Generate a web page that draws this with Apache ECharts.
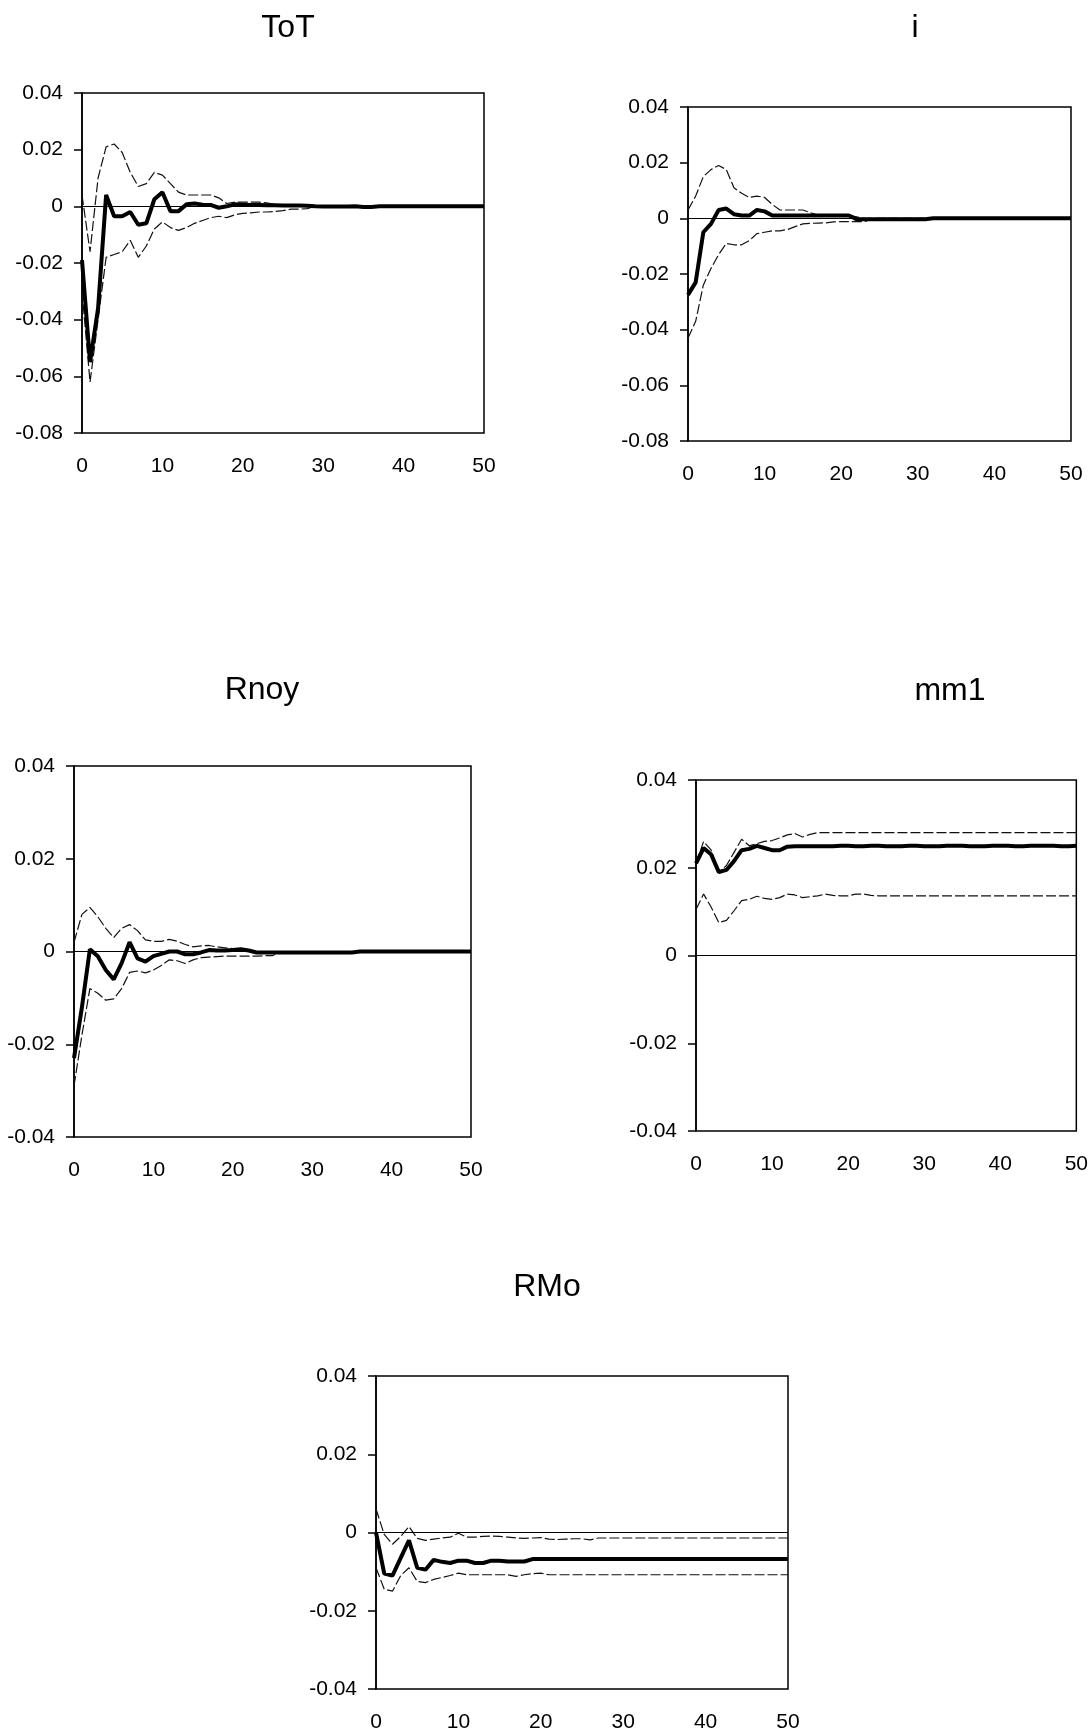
<!DOCTYPE html>
<html><head><meta charset="utf-8">
<script src="https://cdn.jsdelivr.net/npm/echarts@6/dist/echarts.min.js"></script>
<style>html,body{margin:0;padding:0;background:#fff}#c{width:1091px;height:1733px}</style>
</head><body><div id="c"></div>
<script>
// ---------- data ----------
const periods = [0,1,2,3,4,5,6,7,8,9,10,11,12,13,14,15,16,17,18,19,20,21,22,23,24,25,26,27,28,29,30,31,32,33,34,35,36,37,38,39,40,41,42,43,44,45,46,47,48,49,50];
const xTickLabels = ['0','10','20','30','40','50'];
const yTickLabelsWide = ['-0.08','-0.06','-0.04','-0.02','0','0.02','0.04'];
const yTickLabelsNarrow = ['-0.04','-0.02','0','0.02','0.04'];
const panelTitles = ['ToT','i','Rnoy','mm1','RMo'];

const totMedian = [-0.019,-0.055,-0.036,0.004,-0.0035,-0.0035,-0.002,-0.0065,-0.006,0.0025,0.005,-0.0017,-0.0017,0.0007,0.001,0.0006,0.0005,-0.0005,0,0.0007,0.0006,0.0005,0.0005,0.0004,0.0004,0.0003,0.0003,0.0003,0.0002,0,-0.0001,-0.0001,-0.0001,-0.0001,0,-0.0002,-0.0002,0,0,0,0,0,0,0,0,0,0,0,0,0,0];
const totUpper = [0.004,-0.016,0.01,0.021,0.022,0.019,0.012,0.007,0.008,0.012,0.011,0.008,0.005,0.004,0.004,0.004,0.004,0.003,0.001,0.0015,0.0015,0.0015,0.0015,0.0012,0.0006,0.0005,0.0005,0.0005,0.0004,0,0,0,0,0,0,0,0,0,0,0,0,0,0,0,0,0,0,0,0,0,0];
const totLower = [-0.03,-0.062,-0.04,-0.018,-0.017,-0.016,-0.012,-0.018,-0.014,-0.008,-0.0055,-0.0075,-0.0085,-0.0075,-0.006,-0.005,-0.004,-0.0035,-0.004,-0.003,-0.0025,-0.0023,-0.002,-0.002,-0.0018,-0.0015,-0.001,-0.001,-0.0008,0,0,0,0,0,0,0,0,0,0,0,0,0,0,0,0,0,0,0,0,0,0];

const iMedian = [-0.0275,-0.023,-0.005,-0.002,0.003,0.0035,0.0015,0.001,0.001,0.003,0.0025,0.001,0.001,0.001,0.001,0.001,0.001,0.001,0.001,0.001,0.001,0.001,-0.0003,-0.0003,-0.0003,-0.0003,-0.0003,-0.0003,-0.0003,-0.0003,-0.0003,-0.0003,0,0,0,0,0,0,0,0,0,0,0,0,0,0,0,0,0,0,0];
const iUpper = [0.003,0.008,0.015,0.0175,0.019,0.0175,0.011,0.009,0.0075,0.008,0.0075,0.005,0.003,0.003,0.003,0.003,0.002,0.0012,0.001,0.001,0.001,0.001,0.0005,0,0,0,0,0,0,0,0,0,0,0,0,0,0,0,0,0,0,0,0,0,0,0,0,0,0,0,0];
const iLower = [-0.043,-0.037,-0.024,-0.018,-0.013,-0.009,-0.0095,-0.0095,-0.008,-0.0055,-0.005,-0.0045,-0.0045,-0.004,-0.003,-0.002,-0.0018,-0.0017,-0.0016,-0.0013,-0.0012,-0.0012,-0.0012,-0.0012,-0.0003,0,0,0,0,0,0,0,0,0,0,0,0,0,0,0,0,0,0,0,0,0,0,0,0,0,0];

const rnoyMedian = [-0.023,-0.012,0.0005,-0.001,-0.004,-0.006,-0.0025,0.002,-0.0015,-0.0022,-0.001,-0.0005,0,0,-0.0006,-0.0006,-0.0002,0.0003,0.0002,0.0002,0.0003,0.0005,0.0002,-0.0002,-0.0002,-0.0002,-0.0002,-0.0002,-0.0002,-0.0002,-0.0002,-0.0002,-0.0002,-0.0002,-0.0002,-0.0002,0,0,0,0,0,0,0,0,0,0,0,0,0,0,0];
const rnoyUpper = [0.002,0.008,0.0095,0.0075,0.005,0.003,0.005,0.0058,0.0045,0.0025,0.0022,0.0022,0.0026,0.0022,0.0015,0.001,0.0012,0.0013,0.001,0.0008,0.0006,0.0003,0,0,0,0,0,0,0,0,0,0,0,0,0,0,0,0,0,0,0,0,0,0,0,0,0,0,0,0,0];
const rnoyLower = [-0.029,-0.018,-0.008,-0.009,-0.0105,-0.0102,-0.008,-0.0045,-0.0042,-0.0046,-0.004,-0.003,-0.0018,-0.002,-0.0026,-0.0018,-0.0013,-0.0012,-0.0011,-0.001,-0.001,-0.001,-0.001,-0.001,-0.0009,-0.0009,0,0,0,0,0,0,0,0,0,0,0,0,0,0,0,0,0,0,0,0,0,0,0,0,0];

const mm1Median = [0.021,0.0245,0.023,0.019,0.0195,0.0215,0.024,0.0243,0.025,0.0245,0.024,0.024,0.0248,0.0249,0.0249,0.0249,0.0249,0.0249,0.0249,0.025,0.025,0.0249,0.0249,0.025,0.025,0.0249,0.0249,0.0249,0.025,0.025,0.0249,0.0249,0.0249,0.025,0.025,0.025,0.0249,0.0249,0.0249,0.025,0.025,0.025,0.0249,0.0249,0.025,0.025,0.025,0.025,0.0249,0.0249,0.025];
const mm1Upper = [0.021,0.026,0.024,0.019,0.0205,0.0235,0.0265,0.025,0.0255,0.026,0.0262,0.0268,0.0275,0.0278,0.027,0.0276,0.028,0.028,0.028,0.028,0.028,0.028,0.028,0.028,0.028,0.028,0.028,0.028,0.028,0.028,0.028,0.028,0.028,0.028,0.028,0.028,0.028,0.028,0.028,0.028,0.028,0.028,0.028,0.028,0.028,0.028,0.028,0.028,0.028,0.028,0.028];
const mm1Lower = [0.0105,0.014,0.011,0.0075,0.008,0.0102,0.0125,0.0128,0.0135,0.013,0.0128,0.0132,0.014,0.0138,0.0132,0.0134,0.0136,0.014,0.0137,0.0136,0.0136,0.014,0.014,0.0137,0.0136,0.0136,0.0136,0.0136,0.0136,0.0136,0.0136,0.0136,0.0136,0.0136,0.0136,0.0136,0.0136,0.0136,0.0136,0.0136,0.0136,0.0136,0.0136,0.0136,0.0136,0.0136,0.0136,0.0136,0.0136,0.0136,0.0136];

const rmoMedian = [0,-0.0105,-0.011,-0.0065,-0.002,-0.009,-0.0095,-0.007,-0.0075,-0.0078,-0.0072,-0.0072,-0.0078,-0.0078,-0.0072,-0.0072,-0.0074,-0.0074,-0.0074,-0.0068,-0.0068,-0.0068,-0.0068,-0.0068,-0.0068,-0.0068,-0.0068,-0.0068,-0.0068,-0.0068,-0.0068,-0.0068,-0.0068,-0.0068,-0.0068,-0.0068,-0.0068,-0.0068,-0.0068,-0.0068,-0.0068,-0.0068,-0.0068,-0.0068,-0.0068,-0.0068,-0.0068,-0.0068,-0.0068,-0.0068,-0.0068];
const rmoUpper = [0.006,-0.0005,-0.003,-0.001,0.0015,-0.0015,-0.002,-0.0017,-0.0014,-0.0012,-0.0002,-0.0012,-0.0012,-0.001,-0.0009,-0.001,-0.0012,-0.0014,-0.0015,-0.0014,-0.0013,-0.0017,-0.0018,-0.0017,-0.0016,-0.0016,-0.0019,-0.0014,-0.0014,-0.0014,-0.0014,-0.0014,-0.0014,-0.0014,-0.0014,-0.0014,-0.0014,-0.0014,-0.0014,-0.0014,-0.0014,-0.0014,-0.0014,-0.0014,-0.0014,-0.0014,-0.0014,-0.0014,-0.0014,-0.0014,-0.0014];
const rmoLower = [-0.009,-0.0145,-0.015,-0.011,-0.009,-0.0125,-0.0128,-0.012,-0.0115,-0.011,-0.0104,-0.0108,-0.0108,-0.0108,-0.0108,-0.0108,-0.0108,-0.0112,-0.0108,-0.0105,-0.0104,-0.0108,-0.0108,-0.0108,-0.0108,-0.0108,-0.0108,-0.0108,-0.0108,-0.0108,-0.0108,-0.0108,-0.0108,-0.0108,-0.0108,-0.0108,-0.0108,-0.0108,-0.0108,-0.0108,-0.0108,-0.0108,-0.0108,-0.0108,-0.0108,-0.0108,-0.0108,-0.0108,-0.0108,-0.0108,-0.0108];

// ---------- layout ----------
const FONT = '"Liberation Sans", Arial, sans-serif';
const panels = [
  {title: panelTitles[0], tx: 288, ty: 12,   grid: {left: 82,  top: 93,   width: 402, height: 340}, min: -0.08, max: 0.04, yl: yTickLabelsWide,   med: totMedian,  up: totUpper,  lo: totLower},
  {title: panelTitles[1], tx: 915, ty: 12,   grid: {left: 688, top: 107,  width: 383, height: 334}, min: -0.08, max: 0.04, yl: yTickLabelsWide,   med: iMedian,    up: iUpper,    lo: iLower},
  {title: panelTitles[2], tx: 262, ty: 674,  grid: {left: 74,  top: 766,  width: 397, height: 371}, min: -0.04, max: 0.04, yl: yTickLabelsNarrow, med: rnoyMedian, up: rnoyUpper, lo: rnoyLower},
  {title: panelTitles[3], tx: 950, ty: 675,  grid: {left: 696, top: 780,  width: 381, height: 351}, min: -0.04, max: 0.04, yl: yTickLabelsNarrow, med: mm1Median,  up: mm1Upper,  lo: mm1Lower},
  {title: panelTitles[4], tx: 547, ty: 1271, grid: {left: 376, top: 1376, width: 412, height: 318}, min: -0.04, max: 0.04, yl: yTickLabelsNarrow, med: rmoMedian,  up: rmoUpper,  lo: rmoLower}
];

const pairs = arr => periods.map((p, k) => [p, arr[k]]);

const option = {
  animation: false,
  backgroundColor: '#fff',
  title: [], grid: [], xAxis: [], yAxis: [], series: []
};

panels.forEach((p, i) => {
  option.title.push({
    text: p.title, left: p.tx, top: p.ty, textAlign: 'center', padding: 0,
    textStyle: {fontSize: 32, fontWeight: 'normal', fontFamily: FONT, color: '#000'}
  });
  option.grid.push(Object.assign({show: true, borderColor: '#000', borderWidth: 1.5, backgroundColor: 'transparent'}, p.grid));
  option.xAxis.push({
    gridIndex: i, type: 'value', min: 0, max: 50, interval: 10,
    axisLine: {show: false}, axisTick: {show: false}, splitLine: {show: false},
    axisLabel: {color: '#000', fontSize: 21, fontFamily: FONT, margin: 23,
      showMinLabel: true, showMaxLabel: true,
      formatter: (v, idx) => xTickLabels[idx]}
  });
  const yl = p.yl;
  option.yAxis.push({
    gridIndex: i, type: 'value', min: p.min, max: p.max, interval: 0.02,
    axisLine: {show: true, onZero: false, lineStyle: {color: '#000', width: 1.5}},
    axisTick: {show: true, length: 8, lineStyle: {color: '#000', width: 1.5}},
    splitLine: {show: false},
    axisLabel: {color: '#000', fontSize: 21, fontFamily: FONT, margin: 19,
      formatter: (v, idx) => yl[idx]}
  });
  const band = {color: '#111', width: 1.2, type: [10, 3]};
  option.series.push({
    type: 'line', xAxisIndex: i, yAxisIndex: i, data: pairs(p.up),
    symbol: 'none', showSymbol: false, silent: true, lineStyle: band, z: 3
  });
  option.series.push({
    type: 'line', xAxisIndex: i, yAxisIndex: i, data: pairs(p.lo),
    symbol: 'none', showSymbol: false, silent: true, lineStyle: band, z: 3
  });
  option.series.push({
    type: 'line', xAxisIndex: i, yAxisIndex: i, data: pairs(p.med),
    symbol: 'none', showSymbol: false, silent: true, z: 4,
    lineStyle: {color: '#000', width: 4, type: 'solid'},
    markLine: {
      silent: true, symbol: ['none', 'none'], label: {show: false},
      lineStyle: {color: '#000', width: 1.2, type: 'solid'},
      emphasis: {disabled: true},
      data: [{yAxis: 0}]
    }
  });
});

const chart = echarts.init(document.getElementById('c'), null, {renderer: 'canvas'});
chart.setOption(option);
</script>
</body></html>
